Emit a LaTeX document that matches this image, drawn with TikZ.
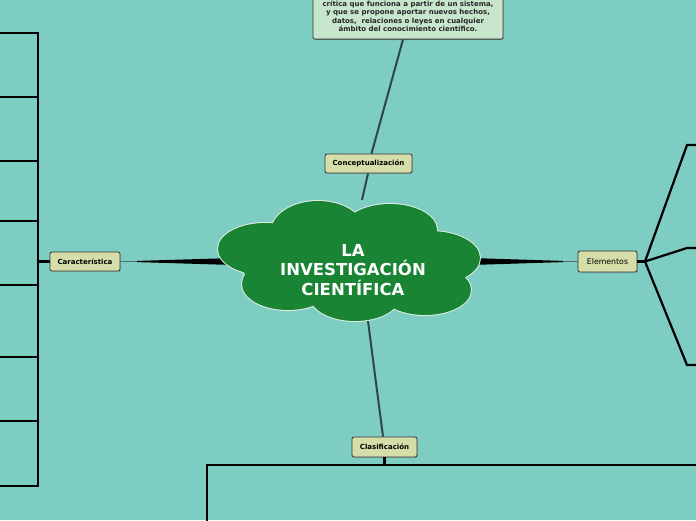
\documentclass[tikz,border=0pt]{standalone}
\usepackage{fontspec}
\setmainfont{DejaVu Sans}
\usetikzlibrary{shadows}
\definecolor{bgc}{HTML}{7ECDC2}
\definecolor{cloudg}{HTML}{198433}
\definecolor{tagfill}{HTML}{D5DEA8}
\definecolor{notefill}{HTML}{C8E6CC}
\definecolor{linkc}{HTML}{2E4745}
\definecolor{thinc}{HTML}{4E6E6A}
\tikzset{
  tag/.style={draw=black!80, line width=0.8pt, fill=tagfill, rounded corners=2pt,
    font=\bfseries\fontsize{7}{8}\selectfont, inner sep=0pt, minimum height=19pt,
    drop shadow={shadow xshift=1pt, shadow yshift=-1pt, opacity=0.35}},
  link/.style={draw=linkc, line width=2pt},
  thin link/.style={draw=thinc, line width=0.9pt},
  brace/.style={draw=black, line width=2.2pt},
}
\begin{document}
\begin{tikzpicture}[x=1pt,y=-1pt]
\useasboundingbox (0,0) rectangle (696,520);
\fill[bgc] (0,0) rectangle (696,520);
\clip (0,0) rectangle (696,520);

% top note
\node[draw=black!80, line width=0.8pt, fill=notefill, rounded corners=2pt,
  minimum width=190pt, minimum height=52pt, anchor=south,
  drop shadow={shadow xshift=1pt, shadow yshift=-1pt, opacity=0.35}] (note) at (408,39.5) {};
\node[font=\bfseries\fontsize{7}{8.6}\selectfont, align=center, anchor=south, text=black!85] (notetext) at (408,35.5)
  {crítica que funciona a partir de un sistema,\\y que se propone aportar nuevos hechos,\\datos,\ \ relaciones o leyes en cualquier\\ámbito del conocimiento científico.};

% tag nodes
\node[tag, minimum width=87pt] (concep) at (368.5,163.5) {Conceptualización};
\node[tag, minimum width=70pt] (carac) at (85,261.5) {Característica};
\node[tag, minimum width=59pt, minimum height=21pt, font=\fontsize{7.8}{9}\selectfont] (elem) at (607.5,261.5) {Elementos};
\node[tag, minimum width=65pt, minimum height=20pt] (clasif) at (384.5,447) {Clasificación};

% coordinates on cloud
\coordinate (ctop) at (362,200);
\coordinate (cbot) at (368,321);
\coordinate (ltip) at (137,261.5);
\coordinate (rtip) at (563,261.5);

% connectors
\draw[link] (note.south -| 403,0) -- (concep.north -| 371.5,0);
\draw[link] (concep.south -| 368,0) -- (ctop);
\draw[link] (cbot) -- (clasif.north -| 383,0);
\fill[black] (250,257.5) -- (137,260.9) -- (137,262.1) -- (250,265.5) -- cycle;
\fill[black] (455,257.5) -- (563,260.9) -- (563,262.1) -- (455,265.5) -- cycle;
\draw[thin link] (ltip) -- (carac.east);
\draw[thin link] (rtip) -- (elem.west);

% cloud
\begin{scope}
\foreach \cx/\cy/\rx/\ry in {318/232/47/31, 390/230/47/26, 265/249/47/26, 430/258/50/27, 288/284/46/26, 355/296/45/25, 425/290/46/25, 350/262/110/40}
  \draw[white!85!cloudg, line width=2pt] (\cx,\cy) ellipse [x radius=\rx, y radius=\ry];
\foreach \cx/\cy/\rx/\ry in {318/232/47/31, 390/230/47/26, 265/249/47/26, 430/258/50/27, 288/284/46/26, 355/296/45/25, 425/290/46/25, 350/262/110/40}
  \fill[cloudg] (\cx,\cy) ellipse [x radius=\rx, y radius=\ry];
\end{scope}
\node[font=\bfseries\fontsize{16.5}{19.5}\selectfont, text=white, align=center] (main) at (353,270)
  {LA\\INVESTIGACIÓN\\CIENTÍFICA};

% left bracket
\coordinate (lb) at (38,261.5);
\draw[brace, line width=2.8pt] (carac.west) -- (lb);
\draw[brace, line width=2.6pt] (38,32) -- (38,487);
\foreach \yy in {33,97,161,221,285,357,421,486}
  \draw[brace] (0,\yy) -- (38,\yy);

% right fan
\coordinate (rb) at (645,261.5);
\draw[brace, line width=2.8pt] (elem.east) -- (rb);
\draw[brace, line join=miter] (rb) -- (687,145) -- (700,145);
\draw[brace, line join=miter] (rb) -- (687,248) -- (700,248);
\draw[brace, line join=miter] (rb) -- (687,365) -- (700,365);

% bottom bracket
\coordinate (bb) at (384.5,465);
\draw[brace, line width=2.6pt] (clasif.south) -- (bb);
\draw[brace, line join=miter] (207,525) -- (207,465) -- (700,465);
\end{tikzpicture}
\end{document}
